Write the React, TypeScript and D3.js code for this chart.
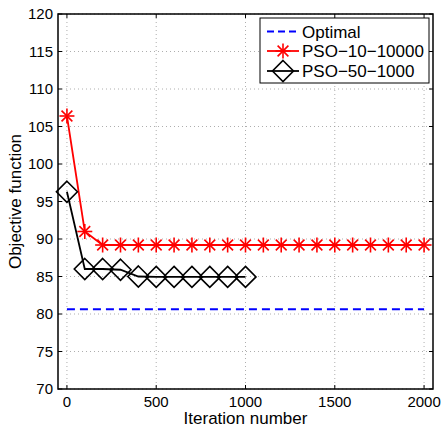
import React from "react";
import * as d3 from "d3";

const W = 441;
const H = 430;

// Iteration checkpoints and objective values
const optimalX = [0, 2000];
const optimalY = [80.65, 80.65];

const pso10Iter = [0, 100, 200, 300, 400, 500, 600, 700, 800, 900, 1000, 1100, 1200, 1300, 1400, 1500, 1600, 1700, 1800, 1900, 2000];
const pso10Val = [106.4, 91.0, 89.2, 89.2, 89.2, 89.2, 89.2, 89.2, 89.2, 89.2, 89.2, 89.2, 89.2, 89.2, 89.2, 89.2, 89.2, 89.2, 89.2, 89.2, 89.2];

const pso50Iter = [0, 100, 200, 300, 400, 500, 600, 700, 800, 900, 1000];
const pso50Val = [96.3, 86.0, 86.0, 85.9, 85.0, 84.95, 84.95, 84.95, 84.95, 84.95, 84.95];

const xTicks = [0, 500, 1000, 1500, 2000];
const yTicks = [70, 75, 80, 85, 90, 95, 100, 105, 110, 115, 120];

const legendLabels = ["Optimal", "PSO\u221210\u221210000", "PSO\u221250\u22121000"];

const FONT = "'Liberation Sans', Arial, Helvetica, sans-serif";

export default function App() {
  const left = 58, right = 433, top = 14, bottom = 389;
  const x = d3.scaleLinear().domain([-50, 2050]).range([left, right]);
  const y = d3.scaleLinear().domain([70, 120]).range([bottom, top]);
  const line = d3.line<[number, number]>().x(d => x(d[0])).y(d => y(d[1]));

  const optPts = optimalX.map((v, i) => [v, optimalY[i]] as [number, number]);
  const p10 = pso10Iter.map((v, i) => [v, pso10Val[i]] as [number, number]);
  const p50 = pso50Iter.map((v, i) => [v, pso50Val[i]] as [number, number]);

  const star = (cx: number, cy: number, r: number, key: string) => {
    const d = r * 0.72;
    return (
      <g key={key} stroke="#ff0000" strokeWidth={1.6}>
        <line x1={cx - r} y1={cy} x2={cx + r} y2={cy} />
        <line x1={cx} y1={cy - r} x2={cx} y2={cy + r} />
        <line x1={cx - d} y1={cy - d} x2={cx + d} y2={cy + d} />
        <line x1={cx - d} y1={cy + d} x2={cx + d} y2={cy - d} />
      </g>
    );
  };
  const diamond = (cx: number, cy: number, r: number, key: string) => (
    <path key={key} d={`M${cx},${cy - r}L${cx + r},${cy}L${cx},${cy + r}L${cx - r},${cy}Z`}
      fill="none" stroke="#000" strokeWidth={1.6} />
  );

  const lgX0 = 260, lgY0 = 18, lgW = 169, lgH = 65;
  const rows = [31.5, 51, 71];

  return (
    <svg width={W} height={H} style={{ position: "absolute", left: 0, top: 0, background: "#fff" }} fontFamily={FONT}>
      <rect x={0} y={0} width={W} height={H} fill="#fff" />
      {/* grid */}
      <g stroke="#999" strokeWidth={0.8} strokeDasharray="1,3">
        {xTicks.map(t => <line key={"gx" + t} x1={x(t)} x2={x(t)} y1={top} y2={bottom} />)}
        {yTicks.map(t => <line key={"gy" + t} x1={left} x2={right} y1={y(t)} y2={y(t)} />)}
      </g>
      {/* ticks */}
      <g stroke="#000" strokeWidth={1}>
        {xTicks.map(t => (
          <g key={"tx" + t}>
            <line x1={x(t)} x2={x(t)} y1={bottom} y2={bottom - 4} />
            <line x1={x(t)} x2={x(t)} y1={top} y2={top + 4} />
          </g>
        ))}
        {yTicks.map(t => (
          <g key={"ty" + t}>
            <line x1={left} x2={left + 4} y1={y(t)} y2={y(t)} />
            <line x1={right} x2={right - 4} y1={y(t)} y2={y(t)} />
          </g>
        ))}
      </g>
      {/* series */}
      <path d={line(optPts) || ""} fill="none" stroke="#0000ff" strokeWidth={2} strokeDasharray="8,5" />
      <path d={line(p10) || ""} fill="none" stroke="#ff0000" strokeWidth={1.8} />
      {p10.map((p, i) => star(x(p[0]), y(p[1]), 7.5, "s" + i))}
      <path d={line(p50) || ""} fill="none" stroke="#000" strokeWidth={1.8} />
      {p50.map((p, i) => diamond(x(p[0]), y(p[1]), 10.5, "d" + i))}
      {/* axes box */}
      <rect x={left} y={top} width={right - left} height={bottom - top} fill="none" stroke="#000" strokeWidth={1.5} />
      {/* tick labels */}
      <g fontSize={15} fill="#000">
        {xTicks.map(t => (
          <text key={"lx" + t} x={x(t)} y={bottom + 18} textAnchor="middle">{t}</text>
        ))}
        {yTicks.map(t => (
          <text key={"ly" + t} x={53} y={y(t) + 5} textAnchor="end">{t}</text>
        ))}
      </g>
      <text x={(left + right) / 2} y={424} fontSize={17} textAnchor="middle">Iteration number</text>
      <text transform={`translate(21,${(top + bottom) / 2}) rotate(-90)`} fontSize={17} textAnchor="middle">Objective function</text>
      {/* legend */}
      <rect x={lgX0} y={lgY0} width={lgW} height={lgH} fill="#fff" stroke="#000" strokeWidth={1} />
      <line x1={267} x2={299} y1={rows[0]} y2={rows[0]} stroke="#0000ff" strokeWidth={2} strokeDasharray="7,4" />
      <line x1={267} x2={299} y1={rows[1]} y2={rows[1]} stroke="#ff0000" strokeWidth={1.8} />
      {star(283, rows[1], 7.5, "ls")}
      <line x1={267} x2={299} y1={rows[2]} y2={rows[2]} stroke="#000" strokeWidth={1.8} />
      {diamond(283, rows[2], 10.5, "ld")}
      {legendLabels.map((s, i) => (
        <text key={s} x={302} y={rows[i] + 6} fontSize={17} fill="#000">{s}</text>
      ))}
    </svg>
  );
}
